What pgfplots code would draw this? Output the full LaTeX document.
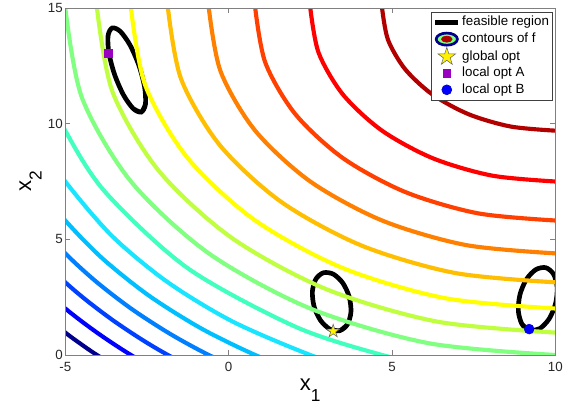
\documentclass[border=0pt]{standalone}
\usepackage{fontspec}
\setmainfont{Liberation Sans}
\usepackage{pgfplots}
\pgfplotsset{compat=1.18}
\definecolor{c1}{rgb}{0.7,0,0}
\definecolor{c2}{rgb}{1,0,0}
\definecolor{c3}{rgb}{1,0.25,0}
\definecolor{c4}{rgb}{1,0.5,0}
\definecolor{c5}{rgb}{1,0.75,0}
\definecolor{c6}{rgb}{1,1,0}
\definecolor{c7}{rgb}{0.75,1,0.25}
\definecolor{c8}{rgb}{0.5,1,0.5}
\definecolor{c9}{rgb}{0.25,1,0.75}
\definecolor{c10}{rgb}{0.1,0.9,1}
\definecolor{c11}{rgb}{0,0.75,1}
\definecolor{c12}{rgb}{0,0.5,1}
\definecolor{c13}{rgb}{0,0.25,1}
\definecolor{c14}{rgb}{0,0,1}
\definecolor{c15}{rgb}{0,0,0.55}
\definecolor{mpurple}{rgb}{0.6,0,0.75}
\newcommand{\sub}[1]{\raisebox{-8pt}{\fontsize{13}{13}\selectfont #1}}
\pgfdeclareplotmark{fstar}{%
  \pgfpathmoveto{\pgfpointpolar{90}{\pgfplotmarksize}}%
  \pgfpathlineto{\pgfpointpolar{126}{0.382*\pgfplotmarksize}}%
  \pgfpathlineto{\pgfpointpolar{162}{\pgfplotmarksize}}%
  \pgfpathlineto{\pgfpointpolar{198}{0.382*\pgfplotmarksize}}%
  \pgfpathlineto{\pgfpointpolar{234}{\pgfplotmarksize}}%
  \pgfpathlineto{\pgfpointpolar{270}{0.382*\pgfplotmarksize}}%
  \pgfpathlineto{\pgfpointpolar{306}{\pgfplotmarksize}}%
  \pgfpathlineto{\pgfpointpolar{342}{0.382*\pgfplotmarksize}}%
  \pgfpathlineto{\pgfpointpolar{18}{\pgfplotmarksize}}%
  \pgfpathlineto{\pgfpointpolar{54}{0.382*\pgfplotmarksize}}%
  \pgfpathclose
  \pgfusepathqfillstroke
}
\begin{document}
\begin{tikzpicture}
\begin{axis}[
  scale only axis, width=367.5pt, height=260.25pt,
  xmin=-5, xmax=10, ymin=0, ymax=15,
  xtick={-5,0,5,10}, xticklabels={-5,0,5,10},
  ytick={0,5,10,15}, yticklabels={0,5,10,15},
  axis on top,
  axis line style={black!50, line width=0.5pt},
  tick style={black!50, line width=0.5pt},
  major tick length=3.75pt,
  tick align=inside,
  ticklabel style={font=\fontsize{10}{12}\selectfont, text=black!85},
  xticklabel style={inner sep=0pt, yshift=-5pt},
  yticklabel style={inner sep=0pt, xshift=-1.7pt},
  xlabel={x\sub{1}}, ylabel={x\sub{2}},
  xlabel style={at={(axis description cs:0.5,-0.069)}, anchor=north, inner sep=0pt, font=\fontsize{16.5}{18}\selectfont},
  ylabel style={at={(axis description cs:-0.0476,0.5)}, anchor=south, inner sep=0pt, font=\fontsize{16.5}{18}\selectfont},
  legend cell align=left,
  legend style={at={(axis description cs:1,1)}, anchor=north east, xshift=-1.7pt, yshift=-3pt,
    draw=black!75, line width=0.5pt, fill=white, inner sep=1.5pt, row sep=0pt,
    font=\fontsize{10}{12}\selectfont,
    nodes={inner sep=1.3pt, text height=7.4pt, text depth=2.4pt}},
]
% feasible region (three closed curves)
\addplot[black, line width=3.5pt, smooth] coordinates {
 (-2.923,10.653) (-2.676,10.501) (-2.547,10.836) (-2.571,11.569) (-2.743,12.503) (-3.015,13.388)
 (-3.315,13.987) (-3.562,14.139) (-3.691,13.804) (-3.667,13.071) (-3.495,12.137) (-3.223,11.252)
 (-2.923,10.653) (-2.676,10.501) (-2.547,10.836)};
\addlegendentry{feasible region}
\addplot[black, line width=3.5pt, smooth, forget plot] coordinates {
 (3.103,1.114) (3.405,1.053) (3.639,1.328) (3.744,1.864) (3.691,2.519) (3.493,3.115)
 (3.205,3.495) (2.903,3.555) (2.669,3.280) (2.564,2.744) (2.617,2.090) (2.815,1.493)
 (3.103,1.114) (3.405,1.053) (3.639,1.328)};
\addplot[black, line width=3.5pt, smooth, forget plot] coordinates {
 (8.980,1.334) (9.219,1.055) (9.524,1.140) (9.813,1.566) (10.008,2.220) (10.057,2.927)
 (9.946,3.496) (9.707,3.775) (9.402,3.690) (9.113,3.264) (8.918,2.610) (8.869,1.903)
 (8.980,1.334) (9.219,1.055) (9.524,1.140)};
% contours of f
\addplot[c1, line width=3.1pt, smooth, forget plot] coordinates {(4.697,15) (4.878,13.628) (5.407,12.348) (6.250,11.250) (7.348,10.407) (8.628,9.878) (10,9.697)};
\addplot[c2, line width=3.1pt, smooth, forget plot] coordinates {(2.5,15) (2.756,13.059) (3.505,11.25) (4.697,9.697) (6.25,8.505) (8.059,7.756) (10,7.5)};
\addplot[c3, line width=3.1pt, smooth, forget plot] coordinates {(0.814,15) (1.127,12.622) (2.045,10.407) (3.505,8.505) (5.407,7.045) (7.622,6.127) (10,5.814)};
\addplot[c4, line width=3.1pt, smooth, forget plot] coordinates {(-0.607,15) (-0.245,12.255) (0.814,9.697) (2.5,7.5) (4.697,5.814) (7.255,4.755) (10,4.393)};
\addplot[c5, line width=3.1pt, smooth, forget plot] coordinates {(-1.859,15) (-1.455,11.931) (-0.270,9.070) (1.614,6.614) (4.070,4.730) (6.931,3.545) (10,3.141)};
\addplot[c6, line width=3.1pt, smooth, forget plot] coordinates {(-2.990,15) (-2.547,11.638) (-1.249,8.505) (0.815,5.815) (3.505,3.751) (6.638,2.453) (10,2.010)};
\addplot[c7, line width=3.1pt, smooth, forget plot] coordinates {(-4.031,15) (-3.553,11.369) (-2.151,7.984) (0.079,5.079) (2.984,2.849) (6.369,1.447) (10,0.969)};
\addplot[c8, line width=3.1pt, smooth, forget plot] coordinates {(-5,15) (-4.489,11.118) (-2.990,7.5) (-0.607,4.393) (2.5,2.010) (6.118,0.511) (10,0)};
\addplot[c9, line width=3.1pt, smooth, forget plot] coordinates {(-5.471,11.287) (-5,9.697) (-3.778,7.045) (-1.250,3.750) (2.045,1.222) (4.697,0) (6.287,-0.471)};
\addplot[c10, line width=3.1pt, smooth, forget plot] coordinates {(-5.657,8.989) (-5,7.5) (-3.568,5.142) (-1.859,3.141) (0.142,1.432) (2.5,0) (3.989,-0.657)};
\addplot[c11, line width=3.1pt, smooth, forget plot] coordinates {(-5.809,7.289) (-5,5.814) (-3.860,4.170) (-2.437,2.563) (-0.830,1.140) (0.814,0) (2.289,-0.809)};
\addplot[c12, line width=3.1pt, smooth, forget plot] coordinates {(-5.909,5.814) (-5,4.393) (-4.072,3.191) (-2.990,2.010) (-1.809,0.928) (-0.607,0) (0.814,-0.909)};
\addplot[c13, line width=3.1pt, smooth, forget plot] coordinates {(-5.852,4.307) (-5,3.141) (-4.322,2.330) (-3.521,1.479) (-2.670,0.678) (-1.859,0) (-0.693,-0.852)};
\addplot[c14, line width=3.1pt, smooth, forget plot] coordinates {(-6.053,3.336) (-5,2.010) (-4.031,0.969) (-2.990,0) (-1.664,-1.053)};
\addplot[c15, line width=3.1pt, smooth, forget plot] coordinates {(-5.962,2.074) (-5,0.969) (-4.524,0.476) (-4.031,0) (-2.926,-0.962)};
\addlegendimage{legend image code/.code={
  \draw[line width=2pt, draw=c15, fill=c8] (0.3cm,0cm) ellipse [x radius=0.28cm, y radius=0.16cm];
  \fill[c1] (0.3cm,0cm) ellipse [x radius=0.14cm, y radius=0.08cm];}}
\addlegendentry{contours of f}
% optima
\addplot[only marks, mark=fstar, mark size=5.2pt, mark options={fill=yellow, draw=black!60, line width=0.4pt},
  legend image post style={mark size=7pt}] coordinates {(3.2,1.03)};
\addlegendentry{global opt}
\addplot[only marks, mark=square*, mark size=2.75pt, mark options={fill=mpurple, draw=mpurple}] coordinates {(-3.68,13.04)};
\addlegendentry{local opt A}
\addplot[only marks, mark=*, mark size=3.7pt, mark options={fill=blue, draw=blue!80!black}] coordinates {(9.2,1.12)};
\addlegendentry{local opt B}
\end{axis}
\pgfresetboundingbox
\path[use as bounding box] (-48.98pt,-37.5pt) rectangle (379.28pt,266.25pt);
\end{tikzpicture}
\end{document}
